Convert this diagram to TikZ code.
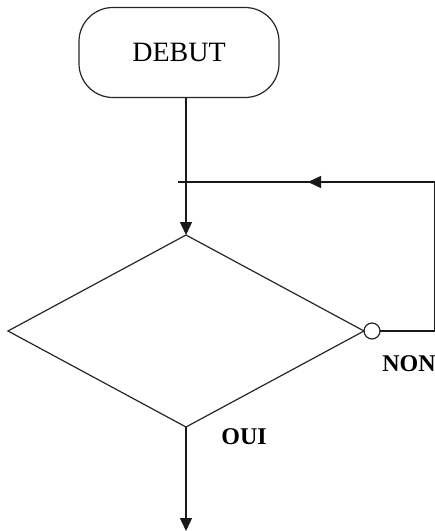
\documentclass[tikz,border=0pt]{standalone}
\usepackage{fontspec}
\setmainfont{Liberation Serif}
\usetikzlibrary{shapes.geometric,arrows.meta}
\tikzset{
  conn/.style={line width=1.4pt, draw=black!90},
  tipped/.style={conn, -{Triangle[length=13pt,width=12pt]}},
  outline/.style={draw=black!85, line width=1.2pt, inner sep=0pt, outer sep=0pt},
  lbl/.style={font=\fontsize{24}{24}\selectfont\bfseries, inner sep=0pt},
}
\begin{document}
\begin{tikzpicture}[x=1pt,y=-1pt]
\useasboundingbox (0,0) rectangle (435,531);
\node[outline, rounded corners=34pt, minimum width=200pt, minimum height=90pt,
      font=\fontsize{28}{28}\selectfont] (debut) at (179,52.5) {DEBUT};
\node[outline, diamond, minimum width=356pt, minimum height=192pt] (diam) at (186,331) {};
\node[outline, circle, minimum size=16pt] (circ) at (372,331) {};
\coordinate (rb) at (434.3,331);
\coordinate (rt) at (434.3,182);
\coordinate (stub) at (178,182);
\coordinate (mid) at (308,182);
\coordinate (top) at (186,97.5);
\coordinate (bot) at (186,531);
\node[lbl] (oui) at (244,437) {OUI};
\node[lbl] (non) at (409,364) {NON};
\draw[tipped] (top) -- (diam.north);
\draw[conn] (circ) -- (rb) -- (rt) -- (stub);
\draw[tipped] (rt) -- (mid);
\draw[tipped] (diam.south) -- (bot);
\end{tikzpicture}
\end{document}
